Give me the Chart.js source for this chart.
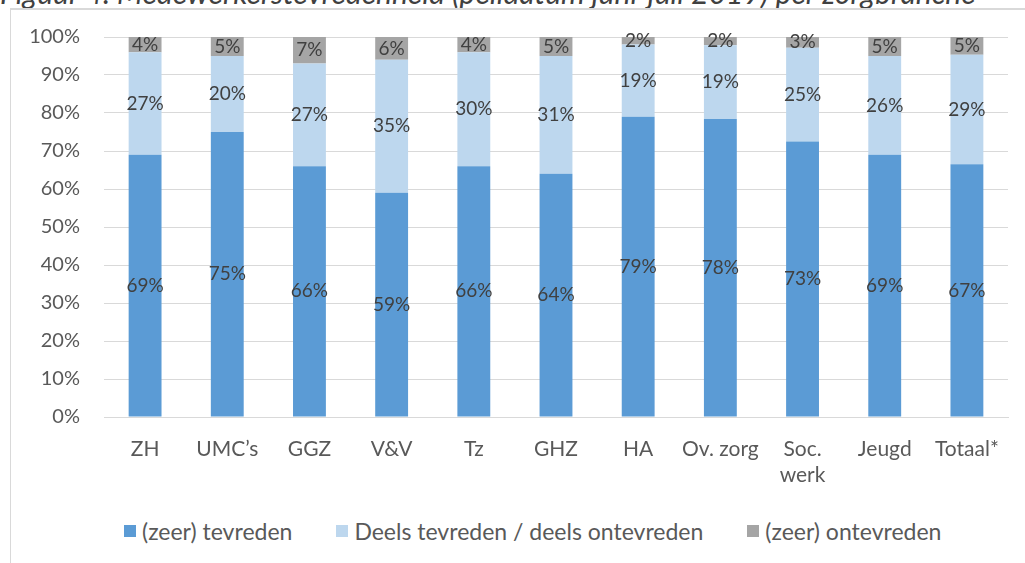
<!DOCTYPE html>
<html>
<head>
<meta charset="utf-8">
<script src="https://cdn.jsdelivr.net/npm/chart.js@4"></script>
<style>
  body { margin: 0; background: #fff; width: 1025px; height: 563px; overflow: hidden; position: relative; font-family: Lato, sans-serif; }
  #title { position: absolute; left: 0; top: -23px; line-height: 30px; font-style: italic; font-size: 30px; color: #404040; white-space: nowrap; }
  #frame { position: absolute; left: 10px; top: 8px; width: 1030px; height: 560px; border-left: 1px solid #D9D9D9; border-top: 2px solid #D9D9D9; }
  #wrap { position: absolute; left: 11px; top: 11px; width: 1014px; height: 480px; }
  #legend { position: absolute; left: 124px; top: 517px; display: flex; font-size: 23px; color: #595959; }
  #legend span.item { display: flex; align-items: center; margin-right: 44px; }
  #legend span.box { width: 12px; height: 12px; margin-right: 6px; display: inline-block; }
</style>
</head>
<body>
<div id="title">Figuur 4. Medewerkerstevredenheid (peildatum juni-juli 2019) per zorgbranche</div>
<div id="frame"></div>
<div id="wrap"><canvas id="satisfaction-chart"></canvas></div>
<div id="legend"></div>
<script>
const branches = ['ZH', 'UMC’s', 'GGZ', 'V&V', 'Tz', 'GHZ', 'HA', 'Ov. zorg', ['Soc.', 'werk'], 'Jeugd', 'Totaal*'];
const satisfied = [69, 75, 66, 59, 66, 64, 79, 78.4, 72.5, 69, 66.5];
const partly = [27, 20, 27, 35, 30, 31, 19, 19.4, 24.7, 26, 28.8];
const dissatisfied = [4, 5, 7, 6, 4, 5, 2, 2.2, 2.8, 5, 4.7];
const yTicks = [0, 10, 20, 30, 40, 50, 60, 70, 80, 90, 100];

// draws the percentage in the middle of every segment
const segmentLabels = {
    id: 'segmentLabels',
    afterDatasetsDraw(chart) {
        const ctx = chart.ctx;
        ctx.save();
        ctx.font = '19px Lato';
        ctx.fillStyle = '#404040';
        ctx.textAlign = 'center';
        ctx.textBaseline = 'middle';
        chart.data.datasets.forEach((ds, i) => {
            const meta = chart.getDatasetMeta(i);
            meta.data.forEach((bar, j) => {
                const p = bar.getProps(['x', 'y', 'base'], true);
                ctx.fillText(Math.round(ds.data[j]) + '%', p.x, (p.y + p.base) / 2);
            });
        });
        ctx.restore();
    }
};

const satisfactionChart = document.getElementById('satisfaction-chart');
const satisfaction = new Chart(satisfactionChart, {
    type: 'bar',
    data: {
        labels: branches,
        datasets: [{
            label: '(zeer) tevreden',
            data: satisfied,
            backgroundColor: '#5B9BD5'
        }, {
            label: 'Deels tevreden / deels ontevreden',
            data: partly,
            backgroundColor: '#BDD7EE'
        }, {
            label: '(zeer) ontevreden',
            data: dissatisfied,
            backgroundColor: '#A5A5A5'
        }]
    },
    options: {
        responsive: true,
        maintainAspectRatio: false,
        animation: false,
        layout: { padding: { top: 26, right: 17, left: 0, bottom: 0 } },
        datasets: { bar: { categoryPercentage: 1, barPercentage: 0.4 } },
        plugins: {
            legend: { display: false },
            tooltip: { enabled: false }
        },
        scales: {
            x: {
                stacked: true,
                grid: { display: false },
                border: { color: '#D9D9D9' },
                ticks: { color: '#595959', font: { family: 'Lato', size: 21 }, padding: 12, maxRotation: 0, autoSkip: false },
                afterFit(scale) { scale.height = 74; }
            },
            y: {
                stacked: true,
                min: 0,
                max: 100,
                afterBuildTicks(scale) { scale.ticks = yTicks.map(v => ({ value: v })); },
                grid: { color: '#D9D9D9', tickLength: 20, tickColor: 'rgba(0,0,0,0)' },
                border: { display: false },
                ticks: {
                    color: '#595959',
                    font: { family: 'Lato', size: 20 },
                    padding: 4,
                    callback: v => v + '%'
                },
                afterFit(scale) { scale.width = 93; }
            }
        }
    },
    plugins: [segmentLabels]
});

const legend = document.getElementById('legend');
satisfaction.data.datasets.forEach(ds => {
    const item = document.createElement('span');
    item.className = 'item';
    item.innerHTML = '<span class="box" style="background:' + ds.backgroundColor + '"></span>' + ds.label;
    legend.appendChild(item);
});
</script>
</body>
</html>
